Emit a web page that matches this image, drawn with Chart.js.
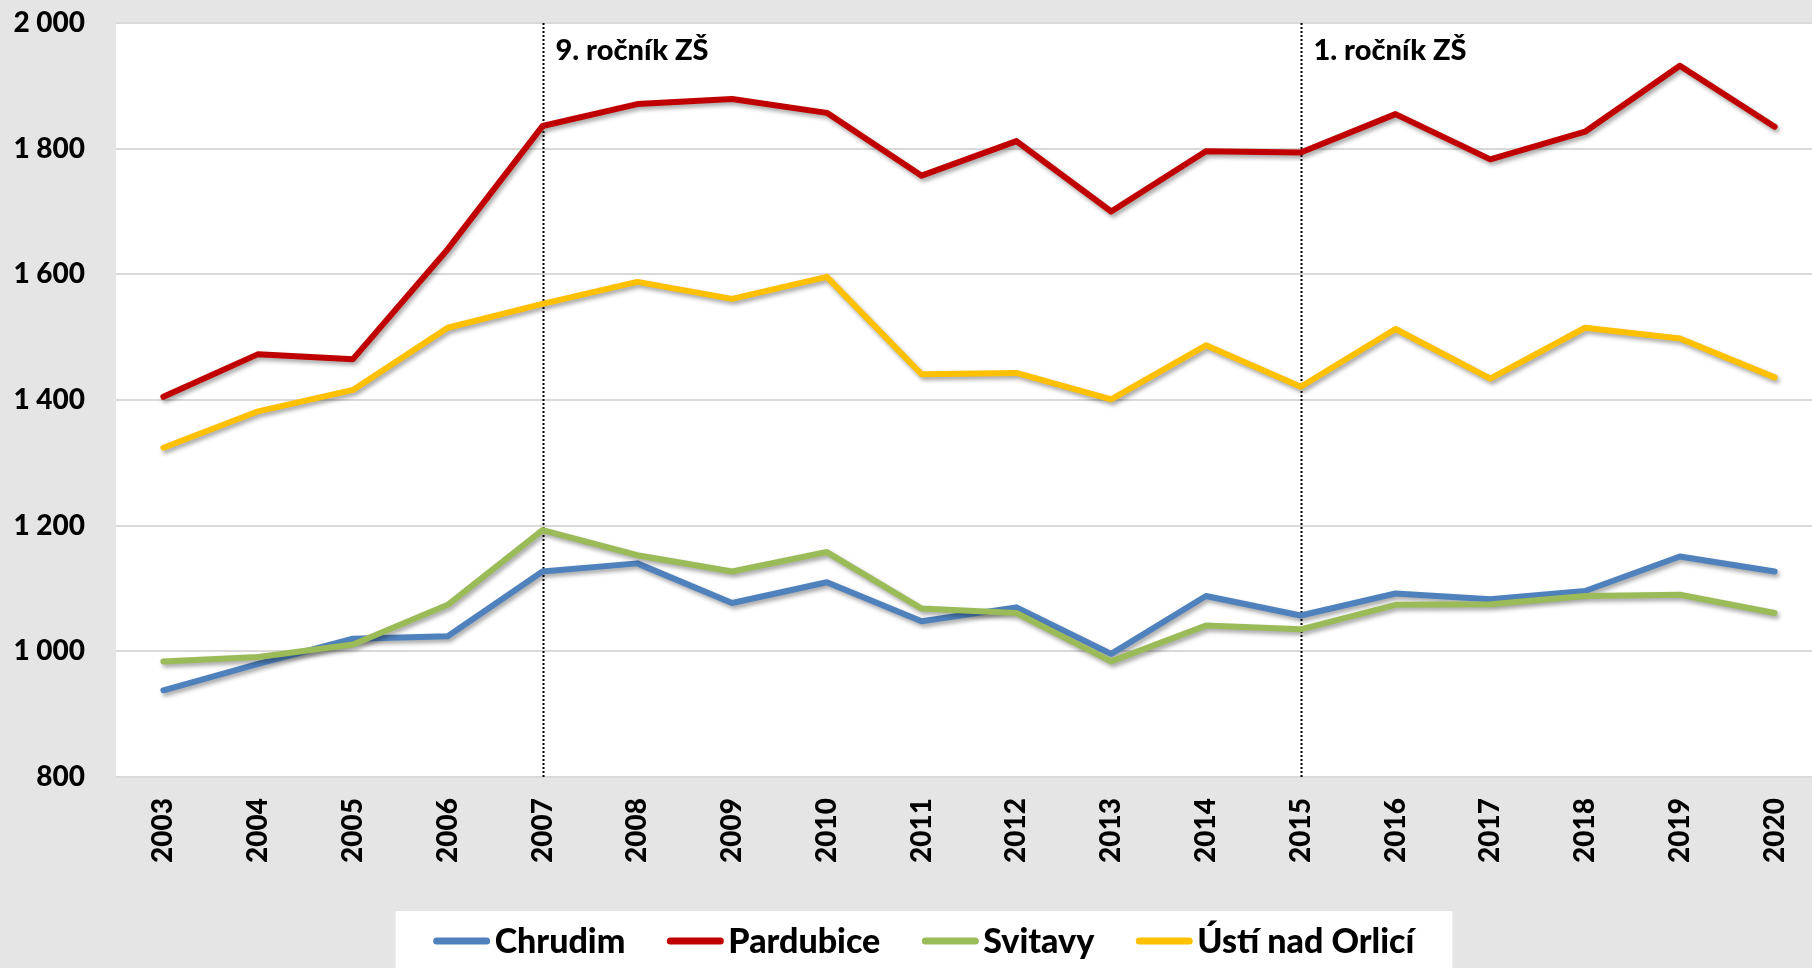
<!DOCTYPE html>
<html>
<head>
<meta charset="utf-8">
<script src="https://cdn.jsdelivr.net/npm/chart.js@4/dist/chart.umd.min.js"></script>
<style>
  html, body { margin: 0; padding: 0; background: #e5e5e5; overflow: hidden; }
  canvas { display: block; }
</style>
</head>
<body>
<canvas id="chart" width="1822" height="968"></canvas>
<script>
const years = ["2003", "2004", "2005", "2006", "2007", "2008", "2009", "2010", "2011",
  "2012", "2013", "2014", "2015", "2016", "2017", "2018", "2019", "2020"];

const chrudim = [938, 980, 1020, 1024, 1127, 1140, 1077, 1110, 1048,
  1070, 996, 1088, 1057, 1092, 1083, 1096, 1151, 1127];
const pardubice = [1405, 1473, 1465, 1640, 1836, 1871, 1879, 1857, 1757,
  1812, 1700, 1796, 1794, 1855, 1783, 1827, 1932, 1835];
const svitavy = [984, 991, 1011, 1074, 1193, 1153, 1127, 1158, 1068,
  1061, 984, 1041, 1035, 1074, 1075, 1088, 1090, 1061];
const ustiNadOrlici = [1324, 1382, 1416, 1515, 1553, 1588, 1561, 1596, 1441,
  1443, 1401, 1487, 1421, 1513, 1434, 1515, 1498, 1436];

// vertical marker lines
const markers = [
  { year: "2007", text: "9. ročník ZŠ" },
  { year: "2015", text: "1. ročník ZŠ" },
];

const FONT = "Lato, 'Open Sans', sans-serif";

// white plot area + line shadows
const plotBackground = {
  id: "plotBackground",
  beforeDraw(chart) {
    const { ctx, chartArea } = chart;
    ctx.save();
    ctx.fillStyle = "#ffffff";
    ctx.fillRect(chartArea.left, chartArea.top, chartArea.right - chartArea.left, chartArea.bottom - chartArea.top);
    ctx.restore();
  },
  beforeDatasetDraw(chart) {
    const ctx = chart.ctx;
    ctx.save();
    ctx.shadowColor = "rgba(0, 0, 0, 0.35)";
    ctx.shadowBlur = 4;
    ctx.shadowOffsetX = 2;
    ctx.shadowOffsetY = 3;
  },
  afterDatasetDraw(chart) {
    chart.ctx.restore();
  },
};

const markerLines = {
  id: "markerLines",
  beforeDatasetsDraw(chart) {
    const { ctx, chartArea, scales } = chart;
    ctx.save();
    markers.forEach((m) => {
      const x = Math.round(scales.x.getPixelForValue(years.indexOf(m.year))) + 0.5;
      ctx.strokeStyle = "#000000";
      ctx.lineWidth = 2;
      ctx.setLineDash([2, 2]);
      ctx.beginPath();
      ctx.moveTo(x, chartArea.top);
      ctx.lineTo(x, chartArea.bottom);
      ctx.stroke();

      ctx.setLineDash([]);
      ctx.fillStyle = "#000000";
      ctx.font = "900 29px " + FONT;
      ctx.textAlign = "left";
      ctx.textBaseline = "middle";
      ctx.fillText(m.text, x + 12, chartArea.top + 28);
    });
    ctx.restore();
  },
};

const legendBox = {
  id: "legendBox",
  afterDraw(chart) {
    const ctx = chart.ctx;
    ctx.save();
    ctx.font = "900 34px " + FONT;
    const items = chart.data.datasets.map((ds) => ({
      text: ds.label,
      color: ds.borderColor,
      w: ctx.measureText(ds.label).width,
    }));
    const lineLen = 56, gap = 5, spacing = 42, pad = 38;
    const total = items.reduce((s, it) => s + lineLen + gap + it.w, 0) + spacing * (items.length - 1);
    const cx = 924, cy = 941;
    let x = cx - total / 2;

    ctx.fillStyle = "#ffffff";
    ctx.fillRect(x - pad, 911, total + pad * 2, 70);

    items.forEach((it) => {
      ctx.strokeStyle = it.color;
      ctx.lineWidth = 7;
      ctx.lineCap = "round";
      ctx.beginPath();
      ctx.moveTo(x + 3, cy);
      ctx.lineTo(x + lineLen - 3, cy);
      ctx.stroke();

      ctx.fillStyle = "#000000";
      ctx.textAlign = "left";
      ctx.textBaseline = "middle";
      ctx.fillText(it.text, x + lineLen + gap, cy + 1);
      x += lineLen + gap + it.w + spacing;
    });
    ctx.restore();
  },
};

function lineSet(label, data, color, order) {
  return {
    label: label,
    data: data,
    borderColor: color,
    backgroundColor: color,
    borderWidth: 6,
    borderJoinStyle: "round",
    borderCapStyle: "round",
    pointRadius: 0,
    tension: 0,
    order: order,
  };
}

new Chart(document.getElementById("chart"), {
  type: "line",
  data: {
    labels: years,
    datasets: [
      lineSet("Chrudim", chrudim, "#4f81bd", 4),
      lineSet("Pardubice", pardubice, "#c00000", 3),
      lineSet("Svitavy", svitavy, "#9bbb59", 2),
      lineSet("Ústí nad Orlicí", ustiNadOrlici, "#ffc000", 1),
    ],
  },
  options: {
    responsive: false,
    animation: false,
    layout: { padding: { top: 23, right: 0, bottom: 0, left: 0 } },
    plugins: {
      legend: { display: false },
      tooltip: { enabled: false },
    },
    scales: {
      x: {
        offset: true,
        grid: { display: false, drawTicks: false },
        border: { display: false },
        ticks: {
          color: "#000000",
          font: { family: FONT, size: 28, weight: "900" },
          minRotation: 90,
          maxRotation: 90,
          padding: 21,
        },
        afterFit(scale) {
          scale.height = 191;
          scale.paddingLeft = 0;
          scale.paddingRight = 0;
        },
      },
      y: {
        min: 800,
        max: 2000,
        grid: { color: "#d9d9d9", lineWidth: 2, drawTicks: false },
        border: { display: false },
        ticks: {
          stepSize: 200,
          color: "#000000",
          padding: 31,
          font: { family: FONT, size: 28, weight: "900" },
          callback: (v) => v.toLocaleString("en-US").replace(",", " "),
        },
        afterFit(scale) {
          scale.width = 116;
          scale.paddingTop = 0;
          scale.paddingBottom = 0;
        },
      },
    },
  },
  plugins: [plotBackground, markerLines, legendBox],
});
</script>
</body>
</html>
